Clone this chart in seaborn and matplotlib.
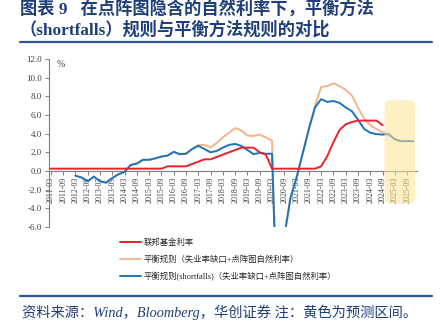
import numpy as np
import pandas as pd
import matplotlib
matplotlib.use("Agg")
import matplotlib.pyplot as plt
import seaborn as sns
from matplotlib.patches import FancyBboxPatch
from matplotlib.lines import Line2D

# ---------------- data ----------------
quarters = [f"{y}-{m:02d}" for y in range(2011, 2026) for m in (3, 6, 9, 12)]
tick_labels = quarters[::2]

fed_funds = [0.25, 0.25, 0.25, 0.25, 0.25, 0.25, 0.25, 0.25, 0.25, 0.25,
             0.25, 0.25, 0.25, 0.25, 0.25, 0.25, 0.25, 0.25, 0.25, 0.5,
             0.5, 0.5, 0.5, 0.75, 1.0, 1.25, 1.25, 1.5, 1.75, 2.0,
             2.25, 2.5, 2.5, 2.5, 2.0, 1.75, 0.25, 0.25, 0.25, 0.25,
             0.25, 0.25, 0.25, 0.25, 0.5, 1.6, 3.1, 4.4, 5.0, 5.25,
             5.4, 5.4, 5.4, 5.4, 4.9]

balanced = [np.nan, np.nan, np.nan, np.nan, -0.5, -0.7, -1.1, -0.6, -1.1, -1.25,
            -0.75, -0.35, -0.1, 0.65, 0.8, 1.2, 1.2, 1.35, 1.55, 1.65,
            2.05, 1.8, 1.85, 2.35, 2.8, 2.8, 2.55, 3.0, 3.6, 4.1,
            4.6, 4.35, 3.8, 3.75, 3.9, 3.6, 3.25, -19.0, -7.0, -2.9,
            -0.7, 1.9, 4.5, 7.0, 9.0, 9.1, 9.4, 9.1, 8.7, 8.1,
            6.8, 5.6, 4.9, 4.5, 4.15, 3.95, 3.4, 3.2, 3.2, 3.2]

shortfalls = [np.nan, np.nan, np.nan, np.nan, -0.5, -0.7, -1.1, -0.6, -1.1, -1.25,
              -0.75, -0.35, -0.1, 0.65, 0.8, 1.2, 1.2, 1.35, 1.55, 1.65,
              2.05, 1.8, 1.85, 2.35, 2.7, 2.35, 2.0, 2.15, 2.5, 2.8,
              2.9, 2.7, 2.25, 1.8, 1.95, 1.85, 1.85, -19.0, -7.0, -2.9,
              -0.7, 1.9, 4.5, 6.8, 7.7, 7.4, 7.5, 7.3, 6.8, 6.4,
              5.5, 4.5, 4.1, 3.95, 3.9, 3.95, 3.4, 3.2, 3.2, 3.2]

forecast_first = "2024-12"
forecast_last = "2025-12"

labels = ["联邦基金利率",
          "平衡规则（失业率缺口+点阵图自然利率）",
          "平衡规则(shortfalls)（失业率缺口+点阵图自然利率）"]
colors = ["#E8232A", "#F6B48C", "#1C74BF"]

title1 = "图表 9   在点阵图隐含的自然利率下，平衡方法"
title2 = "（shortfalls）规则与平衡方法规则的对比"
source = "资料来源：Wind，Bloomberg，华创证券 注：黄色为预测区间。"

# ---------------- plot ----------------
sns.set_style("white")
plt.rcParams["font.family"] = ["Liberation Serif", "Noto Sans CJK SC", "DejaVu Sans"]
plt.rcParams["axes.unicode_minus"] = False

fig = plt.figure(figsize=(4.42, 3.28), dpi=100)
ax = fig.add_axes([49 / 442, 1 - 227 / 328, 368 / 442, 168 / 328])

idx = np.arange(len(quarters))
df_red = pd.DataFrame({"q": idx[:len(fed_funds)], "v": fed_funds})
df_or = pd.DataFrame({"q": idx, "v": balanced}).dropna()
df_bl = pd.DataFrame({"q": idx, "v": shortfalls}).dropna()

sns.lineplot(data=df_or, x="q", y="v", ax=ax, color=colors[1], lw=1.4, label=labels[1], zorder=2)
sns.lineplot(data=df_bl, x="q", y="v", ax=ax, color=colors[2], lw=1.4, label=labels[2], zorder=3)
sns.lineplot(data=df_red, x="q", y="v", ax=ax, color=colors[0], lw=1.4, label=labels[0], zorder=4)

ax.set_xlim(-0.3, 59.6)
ax.set_ylim(-6, 12)

# forecast highlight
fs = quarters.index(forecast_first) - 0.7
fe = quarters.index(forecast_last) + 0.3
box = FancyBboxPatch((fs, -3.5), fe - fs, 11.1,
                     boxstyle="round,pad=0,rounding_size=0.9", mutation_aspect=1.3,
                     facecolor="#FFE495", edgecolor="none", alpha=0.55, zorder=5,
                     clip_on=False)
ax.add_patch(box)

for s in ["top", "right"]:
    ax.spines[s].set_visible(False)
ax.spines["left"].set_color("#7f7f7f")
ax.spines["bottom"].set_color("#7f7f7f")
ax.spines["bottom"].set_position(("data", 0))
ax.spines["left"].set_linewidth(0.8)
ax.spines["bottom"].set_linewidth(0.8)

ax.set_yticks(np.arange(-6, 12.1, 2))
ax.set_yticklabels([f"{v:.1f}" for v in np.arange(-6, 12.1, 2)])
ax.set_xticks(idx[::2])
ax.set_xticklabels(tick_labels, rotation=90, va="top", ha="center")
ax.tick_params(axis="y", labelsize=6.5, length=3, width=0.7, color="#7f7f7f",
               direction="out", pad=2, labelcolor="#404040", left=True)
ax.tick_params(axis="x", labelsize=5.8, length=3, width=0.7, color="#7f7f7f",
               direction="out", pad=1, labelcolor="#404040", bottom=True)
ax.set_xlabel("")
ax.set_ylabel("")
ax.grid(False)
ax.text(0.022, 0.995, "%", transform=ax.transAxes, fontsize=7, va="top", ha="left",
        color="#404040")

# legend
handles, labs = ax.get_legend_handles_labels()
order = [labs.index(l) for l in labels]
ax.legend_.remove()
fig.legend([handles[i] for i in order], [labs[i] for i in order],
           loc="upper left", bbox_to_anchor=(118 / 442, 1 - 237 / 328),
           frameon=False, handlelength=2.6, labelspacing=0.95,
           handletextpad=0.3, borderaxespad=0, borderpad=0.2,
           prop={"family": ["Liberation Serif", "Noto Sans CJK SC"], "size": 6})

# titles and rules
navy = "#1F3F7A"
tfam = ["Liberation Serif", "Noto Sans CJK SC"]
fig.text(20 / 442, 1 - 9 / 328, title1, fontsize=12.4, fontweight="bold", color=navy,
         va="center", ha="left", family=tfam)
fig.text(20 / 442, 1 - 30 / 328, title2, fontsize=12.4, fontweight="bold", color=navy,
         va="center", ha="left", family=tfam)
fig.add_artist(Line2D([20 / 442, 432 / 442], [1 - 42 / 328] * 2, color="#2E5597", lw=1.6))
fig.add_artist(Line2D([20 / 442, 432 / 442], [1 - 296 / 328] * 2, color="#2E5597", lw=1.6))
fig.text(22 / 442, 1 - 312 / 328, source, fontsize=10.3, style="italic", color=navy,
         va="center", ha="left", family=tfam)

fig.savefig("out.png", dpi=100)
